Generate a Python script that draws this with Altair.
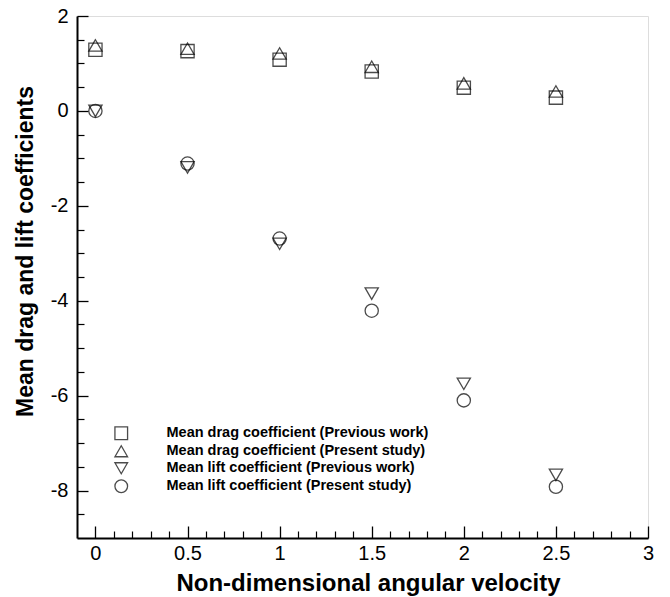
import altair as alt
import pandas as pd

# ---- data ----
x_vals = [0, 0.5, 1, 1.5, 2, 2.5]
drag_prev = [1.29, 1.26, 1.08, 0.83, 0.49, 0.28]
drag_pres = [1.38, 1.31, 1.21, 0.93, 0.58, 0.41]
lift_prev = [0.0, -1.19, -2.80, -3.85, -5.75, -7.67]
lift_pres = [0.0, -1.11, -2.69, -4.21, -6.10, -7.92]

series = [
    "Mean drag coefficient (Previous work)",
    "Mean drag coefficient (Present study)",
    "Mean lift coefficient (Previous work)",
    "Mean lift coefficient (Present study)",
]
shapes = ["square", "triangle-up", "triangle-down", "circle"]

x_major = [0, 0.5, 1, 1.5, 2, 2.5, 3]
x_minor = [0.1, 0.2, 0.3, 0.4, 0.6, 0.7, 0.8, 0.9, 1.1, 1.2, 1.3, 1.4,
           1.6, 1.7, 1.8, 1.9, 2.1, 2.2, 2.3, 2.4, 2.6, 2.7, 2.8, 2.9]
y_major = [-8, -6, -4, -2, 0, 2]
y_minor = [-8.5, -7.5, -7, -6.5, -5.5, -5, -4.5, -3.5, -3, -2.5, -1.5, -1,
           -0.5, 0.5, 1, 1.5]

rows = []
for s, vals in zip(series, [drag_prev, drag_pres, lift_prev, lift_pres]):
    for xv, yv in zip(x_vals, vals):
        rows.append({"x": xv, "y": yv, "series": s})
df = pd.DataFrame(rows)

W, H = 571, 522
FONT = "Liberation Sans"

xscale = alt.Scale(domain=[-0.1, 3], nice=False, zero=False)
yscale = alt.Scale(domain=[-9, 2], nice=False, zero=False)

base = alt.Chart(df)

points = base.mark_point(filled=False, color="black", strokeWidth=1.3, size=175).encode(
    x=alt.X("x:Q", scale=xscale,
            axis=alt.Axis(orient="bottom", values=x_major, ticks=False, tickSize=0,
                          grid=False, labelExpr="'' + datum.value",
                          labelFont=FONT, labelFontSize=20, labelColor="black",
                          labelPadding=5, labelFlush=False,
                          domain=True, domainColor="black", domainWidth=2,
                          title="Non-dimensional angular velocity",
                          titleFont=FONT, titleFontSize=24, titleFontWeight="bold",
                          titleColor="black", titlePadding=8, titleX=291)),
    y=alt.Y("y:Q", scale=yscale,
            axis=alt.Axis(orient="left", values=y_major, ticks=False, tickSize=0,
                          grid=False, labelExpr="'' + datum.value",
                          labelFont=FONT, labelFontSize=20, labelColor="black",
                          labelPadding=9, labelFlush=False,
                          domain=True, domainColor="black", domainWidth=2,
                          title="Mean drag and lift coefficients",
                          titleFont=FONT, titleFontSize=23, titleFontWeight="bold",
                          titleColor="black", titlePadding=13, titleY=235)),
    shape=alt.Shape("series:N", scale=alt.Scale(domain=series, range=shapes),
                    legend=alt.Legend(title=None, orient="none", legendX=37, legendY=410,
                                      labelFont=FONT, labelFontSize=14.5,
                                      labelFontWeight="bold", labelColor="black",
                                      symbolSize=160, symbolStrokeWidth=1.3,
                                      symbolStrokeColor="black",
                                      symbolFillColor="transparent",
                                      labelOffset=38, rowPadding=0, padding=0,
                                      labelLimit=400)),
)

major_ticks = base.mark_point(opacity=0).encode(
    x=alt.X("x:Q", scale=xscale,
            axis=alt.Axis(orient="top", offset=-H, values=x_major, labels=False,
                          domain=False, grid=False, ticks=True, tickSize=12,
                          tickColor="black", tickWidth=1.3, title=None)),
    y=alt.Y("y:Q", scale=yscale,
            axis=alt.Axis(orient="right", offset=-W, values=y_major, labels=False,
                          domain=False, grid=False, ticks=True, tickSize=11,
                          tickColor="black", tickWidth=1.3, title=None)),
)

minor_ticks = base.mark_point(opacity=0).encode(
    x=alt.X("x:Q", scale=xscale,
            axis=alt.Axis(orient="top", offset=-H, values=x_minor, labels=False,
                          domain=False, grid=False, ticks=True, tickSize=7,
                          tickColor="black", tickWidth=1.2, title=None)),
    y=alt.Y("y:Q", scale=yscale,
            axis=alt.Axis(orient="right", offset=-W, values=y_minor, labels=False,
                          domain=False, grid=False, ticks=True, tickSize=7,
                          tickColor="black", tickWidth=1.2, title=None)),
)

chart = (
    alt.layer(points, major_ticks, minor_ticks)
    .resolve_axis(x="independent", y="independent")
    .properties(width=W, height=H,
                autosize=alt.AutoSizeParams(type="none"),
                padding={"left": 77, "top": 16, "right": 22, "bottom": 59})
    .configure_view(stroke="black", strokeWidth=1.5)
    .configure(background="white")
)

chart.save("out.html", embed_options={"renderer": "svg", "actions": False})
